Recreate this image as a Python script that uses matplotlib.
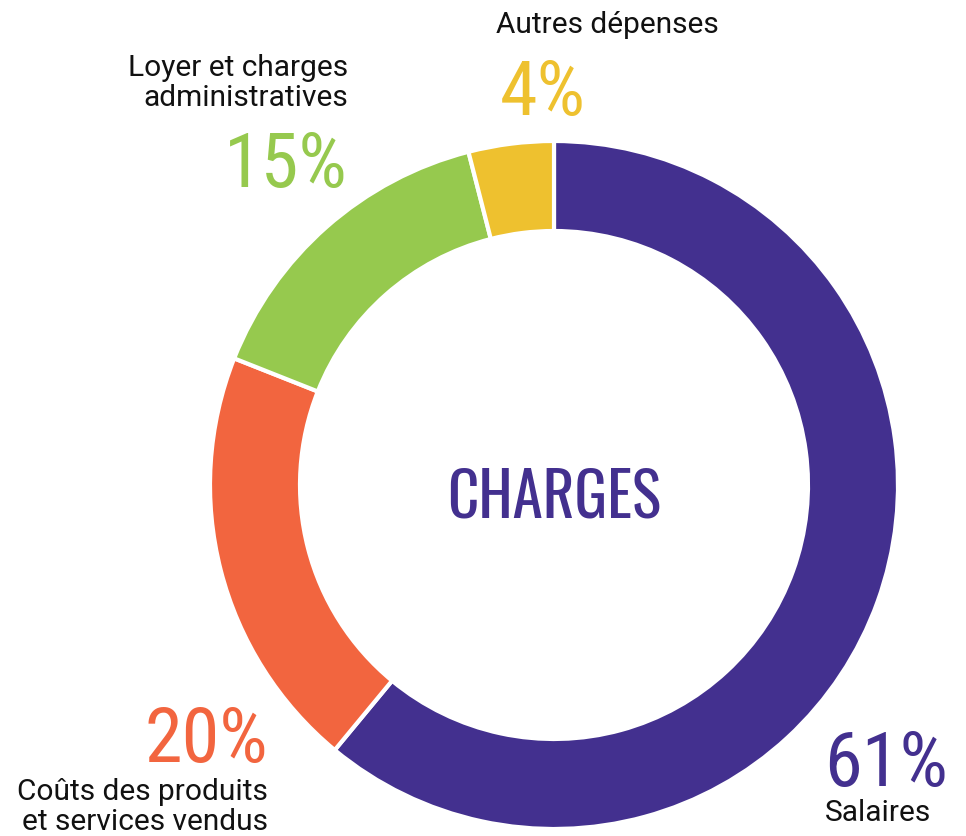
import matplotlib

matplotlib.use('Agg')
import matplotlib.pyplot as plt

W, H = 966, 837

labels = ['Salaires', 'Coûts des produits\net services vendus',
          'Loyer et charges\nadministratives', 'Autres dépenses']
shares = [61, 20, 15, 4]
colors = ['#43308f', '#f2653f', '#96c94e', '#eec12f']

plt.rcParams['font.family'] = ['Roboto', 'DejaVu Sans']
NARROW = ['Roboto Condensed', 'DejaVu Sans']

fig = plt.figure(figsize=(W / 100, H / 100), dpi=100)
ax = fig.add_axes([0, 0, 1, 1])

# donut, in pixel-like data units (y measured from the bottom)
cx, cy, R = 554, H - 486, 344
ax.pie(shares, colors=colors, startangle=90, counterclock=False,
       center=(cx, cy), radius=R, frame=True,
       wedgeprops=dict(width=90, edgecolor='white', linewidth=3))
ax.set_xlim(0, W)
ax.set_ylim(0, H)
ax.set_aspect('equal')
ax.axis('off')

ax.text(cx, H - 518, 'CHARGES', color=colors[0], fontsize=44,
        family=['Oswald', 'Roboto Condensed'], fontweight='light',
        ha='center', va='baseline')

big = dict(fontsize=55, family=NARROW, va='baseline')
small = dict(fontsize=21.5, color='#111111', va='baseline', linespacing=1.1)

# Salaires
ax.text(824, H - 786, f'{shares[0]}%', color=colors[0], ha='left', **big)
ax.text(825, H - 821, labels[0], ha='left', **small)
# Coûts
ax.text(268, H - 762, f'{shares[1]}%', color=colors[1], ha='right', **big)
ax.text(268, H - 830, labels[1], ha='right', **small)
# Loyer
ax.text(348, H - 187, f'{shares[2]}%', color=colors[2], ha='right', **big)
ax.text(348, H - 106, labels[2], ha='right', **small)
# Autres
ax.text(543, H - 115, f'{shares[3]}%', color=colors[3], ha='center', **big)
ax.text(607, H - 33, labels[3], ha='center', **small)

fig.savefig('out.png', dpi=100)
